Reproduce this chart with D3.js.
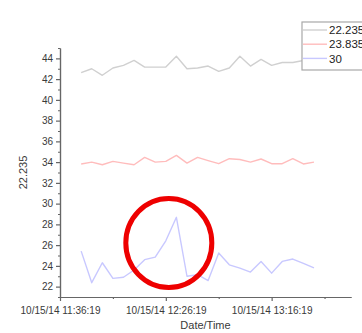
<!DOCTYPE html>
<html>
<head>
<meta charset="utf-8">
<script src="https://cdn.jsdelivr.net/npm/d3@7"></script>
<style>
  body { margin: 0; background: #fff; }
  text { font-family: Arial, "Liberation Sans", sans-serif; }
</style>
</head>
<body>
<svg id="chart" width="362" height="333"></svg>
<script>
// Sample times (one reading every 5 minutes)
const times = [
  '10/15/14 11:46:19', '10/15/14 11:51:19', '10/15/14 11:56:19', '10/15/14 12:01:19',
  '10/15/14 12:06:19', '10/15/14 12:11:19', '10/15/14 12:16:19', '10/15/14 12:21:19',
  '10/15/14 12:26:19', '10/15/14 12:31:19', '10/15/14 12:36:19', '10/15/14 12:41:19',
  '10/15/14 12:46:19', '10/15/14 12:51:19', '10/15/14 12:56:19', '10/15/14 13:01:19',
  '10/15/14 13:06:19', '10/15/14 13:11:19', '10/15/14 13:16:19', '10/15/14 13:21:19',
  '10/15/14 13:26:19', '10/15/14 13:31:19', '10/15/14 13:36:19'
];

// Series values
const series22235 = [42.62, 43.0, 42.37, 43.07, 43.33, 43.8, 43.16, 43.16, 43.16, 44.2, 43.0, 43.07,
  43.26, 42.75, 43.07, 44.2, 43.26, 43.9, 43.33, 43.6, 43.6, 43.8, 43.8];
const series23835 = [33.82, 34.0, 33.75, 34.07, 33.9, 33.75, 34.46, 34.0, 34.07, 34.65, 33.9, 34.46,
  34.15, 33.85, 34.33, 34.25, 34.0, 34.3, 33.85, 33.85, 34.33, 33.82, 34.0];
const series30 = [25.42, 22.38, 24.3, 22.8, 22.9, 23.6, 24.6, 24.85, 26.42, 28.68, 23.0, 23.15,
  22.58, 25.24, 24.1, 23.78, 23.4, 24.43, 23.3, 24.43, 24.66, 24.25, 23.8];

const seriesNames = ['22.235', '23.835', '30'];
const seriesColors = ['#d0d0d0', '#ffbcbc', '#c8c8ff'];

// Axis setup
const xDomain = ['10/15/14 11:36:19', '10/15/14 13:53:49'];
const xMajorTicks = ['10/15/14 11:36:19', '10/15/14 12:26:19', '10/15/14 13:16:19'];
const xMinorTicks = ['10/15/14 12:01:19', '10/15/14 12:51:19', '10/15/14 13:41:19'];
const yDomain = [21, 45];
const yMajorTicks = [22, 24, 26, 28, 30, 32, 34, 36, 38, 40, 42, 44];
const yMinorTicks = [21, 23, 25, 27, 29, 31, 33, 35, 37, 39, 41, 43, 45];

const parse = d3.timeParse('%m/%d/%y %H:%M:%S');

const plot = { left: 60, right: 351, top: 48, bottom: 297 };

const svg = d3.select('#chart');

const xScale = d3.scaleTime()
  .domain(xDomain.map(parse))
  .range([plot.left, plot.right]);

const yScale = d3.scaleLinear()
  .domain(yDomain)
  .range([plot.bottom, plot.top]);

const axisColor = '#666';
const labelColor = '#3a3a3a';

// Y axis: major + minor ticks
svg.append('g')
  .attr('transform', `translate(${plot.left},0)`)
  .call(d3.axisLeft(yScale).tickValues(yMajorTicks).tickSize(4).tickPadding(3).tickSizeOuter(0));
svg.append('g')
  .attr('transform', `translate(${plot.left},0)`)
  .call(d3.axisLeft(yScale).tickValues(yMinorTicks).tickSize(2).tickFormat('').tickSizeOuter(0));

// X axis: major + minor ticks
svg.append('g')
  .attr('transform', `translate(0,${plot.bottom})`)
  .call(d3.axisBottom(xScale)
    .tickValues(xMajorTicks.map(parse))
    .tickFormat(d3.timeFormat('%m/%d/%y %H:%M:%S'))
    .tickSize(4).tickPadding(6).tickSizeOuter(0));
svg.append('g')
  .attr('transform', `translate(0,${plot.bottom})`)
  .call(d3.axisBottom(xScale).tickValues(xMinorTicks.map(parse)).tickSize(2).tickFormat('').tickSizeOuter(0));

svg.selectAll('.domain, .tick line')
  .attr('stroke', axisColor)
  .attr('stroke-width', 1.2);
svg.selectAll('.tick text')
  .attr('fill', labelColor)
  .style('font-size', '10px');

// Axis titles
svg.append('text')
  .attr('x', (plot.left + plot.right) / 2)
  .attr('y', 329)
  .attr('text-anchor', 'middle')
  .attr('fill', labelColor)
  .style('font-size', '11px')
  .text('Date/Time');

svg.append('text')
  .attr('transform', `translate(27,${(plot.top + plot.bottom) / 2}) rotate(-90)`)
  .attr('text-anchor', 'middle')
  .attr('fill', labelColor)
  .style('font-size', '11px')
  .text(seriesNames[0]);

// Lines
const allSeries = [series22235, series23835, series30];
const parsedTimes = times.map(parse);
const line = d3.line()
  .x((d, i) => xScale(parsedTimes[i]))
  .y(d => yScale(d));

svg.append('g')
  .selectAll('path')
  .data(allSeries)
  .join('path')
  .attr('fill', 'none')
  .attr('stroke', (d, i) => seriesColors[i])
  .attr('stroke-width', 1.4)
  .attr('stroke-linejoin', 'round')
  .attr('d', line);

// Legend (runs off the right edge, as in the source)
const legend = svg.append('g').attr('transform', 'translate(302,22)');
legend.append('rect')
  .attr('width', 70)
  .attr('height', 48)
  .attr('fill', '#fff')
  .attr('stroke', '#a8a8a8')
  .attr('stroke-width', 1.2);

const legendItems = legend.selectAll('.item')
  .data(seriesNames)
  .join('g')
  .attr('class', 'item')
  .attr('transform', (d, i) => `translate(0,${8 + i * 14.2})`);
legendItems.append('line')
  .attr('x1', 1)
  .attr('x2', 25)
  .attr('stroke', (d, i) => seriesColors[i])
  .attr('stroke-width', 1.4);
legendItems.append('text')
  .attr('x', 27)
  .attr('dy', '0.36em')
  .attr('fill', '#222')
  .style('font-size', '11.5px')
  .text(d => d);

// Red highlight circle around the spike
svg.append('ellipse')
  .attr('cx', xScale(parsedTimes[8]) + 3)
  .attr('cy', yScale(26.2))
  .attr('rx', 43)
  .attr('ry', 44.5)
  .attr('fill', 'none')
  .attr('stroke', '#ee0000')
  .attr('stroke-width', 5);
</script>
</body>
</html>
